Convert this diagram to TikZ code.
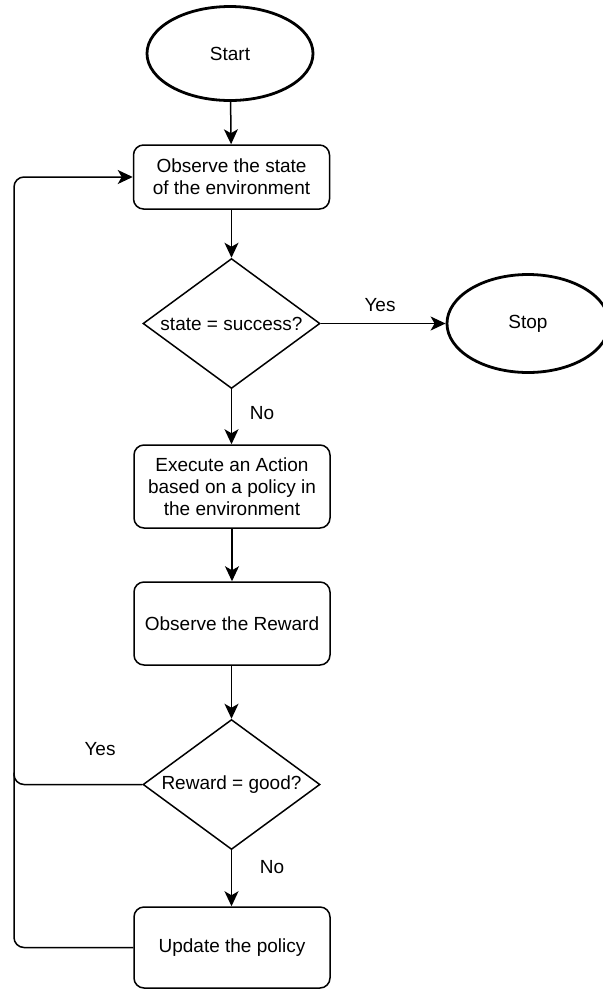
\documentclass[tikz,border=0pt]{standalone}
\usepackage{fontspec}
\setmainfont{Liberation Sans}
\usetikzlibrary{shapes.geometric,arrows.meta}
\begin{document}
\begin{tikzpicture}[x=1pt,y=-1pt,
  every node/.style={font=\fontsize{19}{22}\selectfont, align=center},
  terminal/.style={ellipse, draw, line width=2.8pt, minimum width=166pt, minimum height=94pt, inner sep=0pt},
  procbox/.style={rectangle, draw, line width=1.5pt, rounded corners=10pt, minimum width=196pt, inner sep=0pt},
  decision/.style={diamond, aspect=1.36, draw, line width=1.5pt, minimum width=177pt, minimum height=130pt, inner sep=0pt},
  flow/.style={line width=1.5pt, -{Stealth[length=15pt,width=14pt,inset=4pt]}},
  plain/.style={line width=1.5pt},
  lbl/.style={inner sep=0pt}]
\useasboundingbox (0,0) rectangle (603,989);
\fill[white] (0,0) rectangle (603,989);
\clip (0,0) rectangle (603,989);

\node[terminal] (start) at (230,53.5) {Start};
\node[procbox, minimum height=64pt] (observe) at (231.5,177) {Observe the state\\of the environment};
\node[decision] (success) at (231.5,323.5) {state = success?};
\node[terminal, minimum width=162pt, minimum height=98pt] (stop) at (528,323.5) {Stop};
\node[procbox, minimum height=83pt] (execute) at (232,486.5) {Execute an Action\\based on a policy in\\the environment};
\node[procbox, minimum height=83pt] (reward) at (232,623.5) {Observe the Reward};
\node[decision] (good) at (231.5,784.5) {Reward = good?};
\node[procbox, minimum height=81pt] (update) at (232,947.5) {Update the policy};

\coordinate (loopx) at (14,0);

\draw[flow] (start) -- (observe);
\draw[flow] (observe.south -| success.north) -- (success.north);
\draw[flow] (success.east) -- (stop.west);
\draw[flow] (success.south) -- (success.south |- execute.north);
\draw[flow] (execute.south -| reward.north) -- (reward.north);
\draw[flow] (reward.south -| good.north) -- (good.north);
\draw[flow] (good.south) -- (good.south |- update.north);
% feedback loop back to the observation step
\draw[flow, rounded corners=10pt] (good.west) -- (good.west -| loopx) -- (observe.west -| loopx) -- (observe.west);
\draw[plain, rounded corners=10pt] (update.west) -- (update.west -| loopx) -- ([yshift=12pt]good.west -| loopx);

\node[lbl] (yes1) at (380,305) {Yes};
\node[lbl] (no1) at (262,413) {No};
\node[lbl] (yes2) at (100,749) {Yes};
\node[lbl] (no2) at (272,867) {No};
\end{tikzpicture}
\end{document}
